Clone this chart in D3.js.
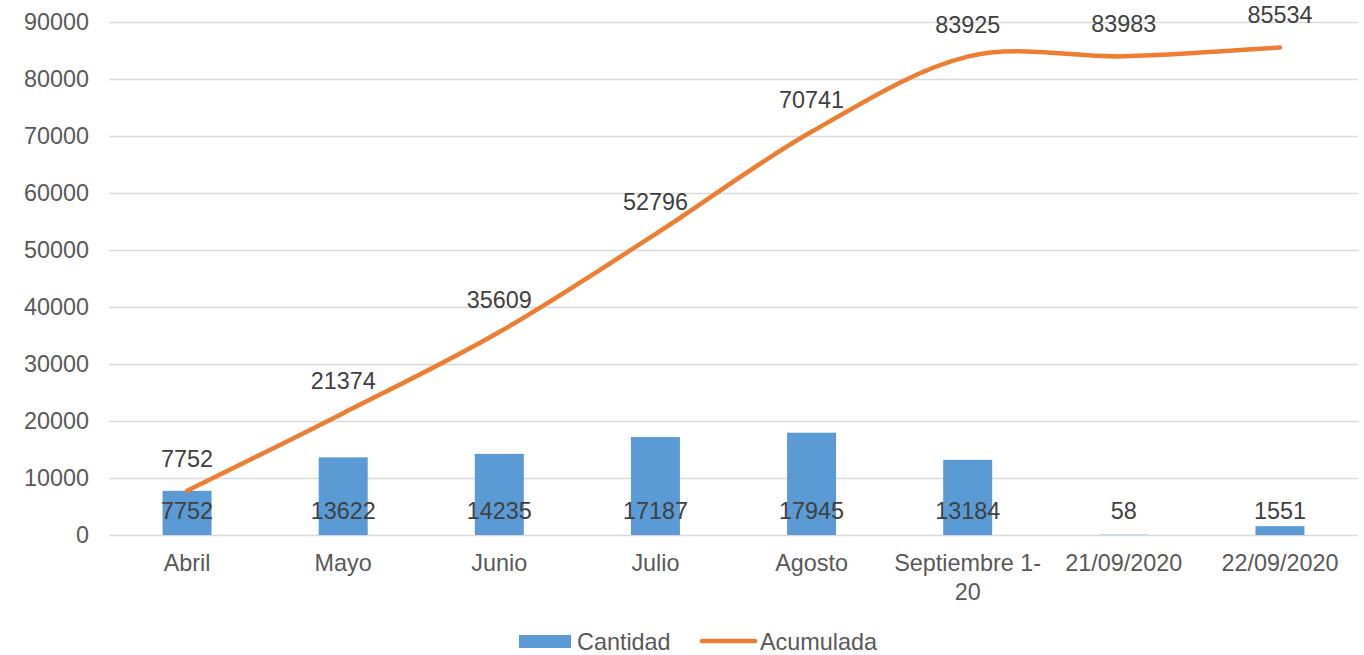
<!DOCTYPE html>
<html>
<head>
<meta charset="utf-8">
<script src="https://cdn.jsdelivr.net/npm/d3@7"></script>
<style>
  html, body { margin: 0; padding: 0; background: #fff; }
  text { font-family: "Liberation Sans", Arial, sans-serif; }
</style>
</head>
<body>
<svg id="chart" width="1364" height="655"></svg>
<script>
// data
const categories = ['Abril', 'Mayo', 'Junio', 'Julio', 'Agosto', 'Septiembre 1-20', '21/09/2020', '22/09/2020'];
const cantidad = [7752, 13622, 14235, 17187, 17945, 13184, 58, 1551];
const acumulada = [7752, 21374, 35609, 52796, 70741, 83925, 83983, 85534];
const yTicks = [0, 10000, 20000, 30000, 40000, 50000, 60000, 70000, 80000, 90000];

const BLUE = '#5b9bd5', ORANGE = '#ed7d31', TXT = '#404040', AXTXT = '#595959', GRID = '#d9d9d9';
const FS = '23.4px';

const svg = d3.select('#chart');
const margin = { top: 22, right: 6, bottom: 120, left: 109 };
const width = 1364 - margin.left - margin.right;
const height = 655 - margin.top - margin.bottom;
const g = svg.append('g').attr('transform', `translate(${margin.left},${margin.top})`);

const x = d3.scaleBand().domain(categories).range([0, width]);
const y = d3.scaleLinear().domain([0, 90000]).range([height, 0]);
const cx = d => x(d) + x.bandwidth() / 2;

// grid + y axis
const yAxis = g.append('g')
  .call(d3.axisLeft(y).tickValues(yTicks).tickSize(-width).tickPadding(20).tickFormat(d3.format('d')));
yAxis.select('.domain').remove();
yAxis.selectAll('.tick line').attr('stroke', GRID).attr('stroke-width', 1.3);
yAxis.selectAll('.tick text').attr('fill', AXTXT).attr('font-size', FS);

// x axis labels
const xAxis = g.append('g').attr('transform', `translate(0,${height})`)
  .call(d3.axisBottom(x).tickSize(0).tickPadding(19));
xAxis.select('.domain').remove();
xAxis.selectAll('.tick text')
  .attr('fill', AXTXT).attr('font-size', FS)
  .each(function (d) {
    if (d === 'Septiembre 1-20') {
      const t = d3.select(this).text(null);
      t.append('tspan').attr('x', 0).attr('dy', '0.71em').text('Septiembre 1-');
      t.append('tspan').attr('x', 0).attr('dy', '1.24em').text('20');
    }
  });

// bars
const barW = 49;
g.append('g').selectAll('rect')
  .data(categories).join('rect')
  .attr('x', (d) => cx(d) - barW / 2)
  .attr('width', barW)
  .attr('y', (d, i) => y(cantidad[i]))
  .attr('height', (d, i) => y(0) - y(cantidad[i]))
  .attr('fill', BLUE);

// bar labels (inside base)
g.append('g').selectAll('text')
  .data(categories).join('text')
  .attr('x', cx)
  .attr('y', height - 16.5)
  .attr('text-anchor', 'middle')
  .attr('font-size', FS)
  .attr('fill', TXT)
  .text((d, i) => cantidad[i]);

// smoothed line
const line = d3.line()
  .x((d, i) => cx(categories[i]))
  .y(d => y(d))
  .curve(d3.curveCardinal.tension(0));
g.append('path')
  .datum(acumulada)
  .attr('d', line)
  .attr('fill', 'none')
  .attr('stroke', ORANGE)
  .attr('stroke-width', 4.5)
  .attr('stroke-linecap', 'round');

// line labels
g.append('g').selectAll('text')
  .data(acumulada).join('text')
  .attr('x', (d, i) => cx(categories[i]))
  .attr('y', d => y(d) - 24)
  .attr('text-anchor', 'middle')
  .attr('font-size', FS)
  .attr('fill', TXT)
  .text(d => d);

// legend
const leg = svg.append('g');
leg.append('rect').attr('x', 519).attr('y', 635).attr('width', 52).attr('height', 13).attr('fill', BLUE);
leg.append('text').attr('x', 577).attr('y', 649.5).attr('font-size', FS).attr('fill', AXTXT).text('Cantidad');
leg.append('line').attr('x1', 702).attr('x2', 755).attr('y1', 641).attr('y2', 641)
  .attr('stroke', ORANGE).attr('stroke-width', 4.5).attr('stroke-linecap', 'round');
leg.append('text').attr('x', 760).attr('y', 649.5).attr('font-size', FS).attr('fill', AXTXT).text('Acumulada');
</script>
</body>
</html>
